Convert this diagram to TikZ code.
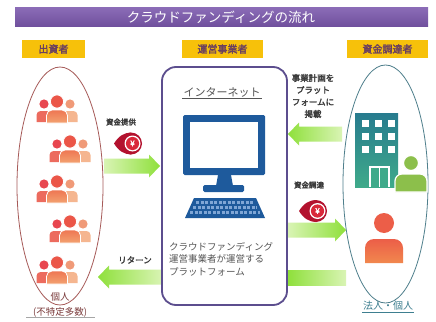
\documentclass[tikz,border=0pt]{standalone}
\usepackage{fontspec}
\setmainfont{Noto Sans CJK JP}[AutoFakeBold=2.5]
\usetikzlibrary{shapes.geometric}

\definecolor{bartop}{HTML}{8A6BB6}
\definecolor{barbot}{HTML}{6F4F9C}
\definecolor{hdrgold}{HTML}{F7C10A}
\definecolor{hdrtext}{HTML}{6A4060}
\definecolor{labelgray}{HTML}{3C3C3C}
\definecolor{softgray}{HTML}{555555}
\definecolor{boxpurple}{HTML}{5C4E8E}
\definecolor{monblue}{HTML}{1E5A9C}
\definecolor{keyblue}{HTML}{7FA6D6}
\definecolor{ellred}{HTML}{A65A58}
\definecolor{ellteal}{HTML}{4F7F8C}
\definecolor{brownred}{HTML}{7A3A3A}
\definecolor{tealtext}{HTML}{3E7F90}
\definecolor{arrowlight}{HTML}{D9F4B4}
\definecolor{arrowlime}{HTML}{8FE03C}
\definecolor{yendark}{HTML}{B3122E}
\definecolor{yenred}{HTML}{D9283A}
\definecolor{bldtop}{HTML}{277B8E}
\definecolor{bldbot}{HTML}{3FAA8A}
\definecolor{greenfig}{HTML}{8CBF4B}
\definecolor{pheadL}{HTML}{E8464F}
\definecolor{pbodyL}{HTML}{EC6B5E}
\definecolor{pheadC}{HTML}{EB5648}
\definecolor{pbodyCt}{HTML}{EE7653}
\definecolor{pbodyCb}{HTML}{F3A270}
\definecolor{pheadR}{HTML}{F09A78}
\definecolor{pbodyR}{HTML}{F5B690}
\definecolor{figtop}{HTML}{EC5E48}
\definecolor{figbot}{HTML}{F1884E}

% one figure: x, head y, head radius, body half width, body top, body bottom,
% head style, body style, shoulder rounding
\newcommand\figperson[9]{%
  \path[#7] (#1,#2) circle (#3);
  \path[#8] (#1-#4,#6) [rounded corners=#9] -- (#1-#4,#5) -- (#1+#4,#5)
        [sharp corners] -- (#1+#4,#6) -- cycle;
}
% a group of three figures, central head top at (#1,#2)
\newcommand\crowd[2]{%
  \figperson{#1-13}{#2+9}{4.6}{7.5}{#2+16}{#2+27}{fill=pheadL}{fill=pbodyL}{4pt}
  \figperson{#1+13}{#2+9}{4.6}{7.5}{#2+16}{#2+27}{fill=pheadR}{fill=pbodyR}{4pt}
  \figperson{#1}{#2+6.5}{6.6}{10.5}{#2+15}{#2+28}{fill=pheadC,draw=white,line width=0.8}%
     {top color=pbodyCt,bottom color=pbodyCb,draw=white,line width=0.8}{5.5pt}
}
% block arrow: tail x, tip x, centre y, direction (+1 right, -1 left), shading
\newcommand\blockarrow[5]{%
  \shade[#5] (#1,#3-7.5) -- (#2-#4*11,#3-7.5) -- (#2-#4*11,#3-11.5) -- (#2,#3)
     -- (#2-#4*11,#3+11.5) -- (#2-#4*11,#3+7.5) -- (#1,#3+7.5) -- cycle;
}
% yen coin badge with a pointed tail to the left
\newcommand\yenbadge[3]{%
  \fill[yendark] (#2-17,#3) .. controls (#2-12,#3-8) and (#2-7,#3-10.5) .. (#2,#3-11)
     -- (#2,#3+11) .. controls (#2-7,#3+10.5) and (#2-12,#3+8) .. (#2-17,#3) -- cycle;
  \fill[yendark] (#2,#3) circle (11);
  \fill[white] (#2+1.5,#3) circle (8);
  \fill[yenred] (#2+1.5,#3) circle (6.6);
  \node[text=white, inner sep=0pt, font=\fontsize{8}{8}\selectfont\bfseries] (#1) at (#2+1.5,#3) {¥};
}

\begin{document}
\begin{tikzpicture}[x=1pt,y=-1pt,
  hdr/.style={fill=hdrgold, minimum height=18pt, inner sep=0pt, text=hdrtext,
              font=\fontsize{10}{12}\selectfont\bfseries},
  lbl/.style={inner sep=0pt, text=labelgray, font=\fontsize{7.5}{9}\selectfont\bfseries},
  toright/.style={left color=arrowlight, right color=arrowlime},
  toleft/.style={left color=arrowlime, right color=arrowlight}]
\useasboundingbox (0,0) rectangle (436,321);
\fill[white] (0,0) rectangle (436,321);

% title bar
\shade[top color=bartop, bottom color=barbot] (15,8) rectangle (428,27);
\node[text=white, font=\fontsize{13.5}{15}\selectfont] (title) at (221,17.5) {クラウドファンディングの流れ};

% column headers
\node[hdr, minimum width=63pt] (hdrinv) at (53.5,49) {出資者};
\node[hdr, minimum width=81pt] (hdrop) at (222.5,49) {運営事業者};
\node[hdr, minimum width=81pt] (hdrraise) at (387.5,49) {資金調達者};

% flow arrows
\blockarrow{104}{160}{166}{1}{toright}
\blockarrow{162}{98}{277}{-1}{toleft}
\blockarrow{342}{288}{134}{-1}{toleft}
\blockarrow{288}{346}{230}{1}{toright}
\shade[toleft] (288,270.5) rectangle (346,285.5);

% investors
\node[ellipse, draw=ellred, line width=0.8, minimum width=86pt, minimum height=238pt, inner sep=0pt] (investors) at (60,186) {};
\crowd{57}{95}
\crowd{70}{135}
\crowd{57}{175}
\crowd{70}{215}
\crowd{57}{256}
\node[text=brownred, align=center, inner sep=0pt, font=\fontsize{9.5}{15}\selectfont] (indiv) at (60,304.5) {個人\\(不特定多数)};
\draw[gray!70, line width=0.6] (26,317) -- (95,317);

% platform
\node[draw=boxpurple, line width=1.8, rounded corners=14pt, minimum width=125pt, minimum height=238pt, inner sep=0pt] (platform) at (224.5,186) {};
\node[text=softgray, inner sep=1pt, font=\fontsize{11}{13}\selectfont] (net) at (222,92) {インターネット};
\draw[softgray, line width=0.5] (net.south west) -- (net.south east);
% computer
\fill[monblue, rounded corners=1.5pt] (183,115) rectangle (265,175);
\fill[white] (190,122) rectangle (258,168);
\fill[monblue] (218,175) -- (231,175) -- (233,186) -- (216,186) -- cycle;
\fill[monblue, rounded corners=1.5pt] (203,185) rectangle (244,192);
\fill[monblue] (194,198) -- (256,198) -- (265,218) -- (185,218) -- cycle;
\foreach \yy/\xa/\xb in {202.5/196/254, 207.5/193/257, 212.5/190/260}
  \draw[keyblue, line width=2.2, dash pattern=on 3.2pt off 1.3pt] (\xa,\yy) -- (\xb,\yy);
\node[text=softgray, align=left, anchor=north west, inner sep=0pt, font=\fontsize{9.5}{12.5}\selectfont] (desc) at (169,242) {クラウドファンディング\\運営事業者が運営する\\プラットフォーム};

% fund raisers
\node[ellipse, draw=ellteal, line width=0.8, minimum width=85pt, minimum height=238pt, inner sep=0pt] (raisers) at (385.5,184) {};
\shade[top color=bldtop, bottom color=bldbot] (355,113) rectangle (398,187);
\foreach \wx in {362,375,388}
  \foreach \wy in {120,133,146}
    \fill[white] (\wx,\wy) rectangle ++(7,7);
\fill[white] (369,166) rectangle (390,187);
\fill[bldbot] (371,168) rectangle (378.8,187);
\fill[bldbot] (380.2,168) rectangle (388,187);
\figperson{411}{163}{7.5}{16}{174}{192}{fill=greenfig,draw=white,line width=1.2}{fill=greenfig,draw=white,line width=1.2}{7pt}
\figperson{384}{223}{10}{19}{239}{263}{fill=figtop}{top color=figtop,bottom color=figbot}{9pt}
\node[text=tealtext, inner sep=1pt, font=\fontsize{10}{12}\selectfont] (corp) at (388,305.5) {法人・個人};
\draw[tealtext, line width=0.6] (362,312) -- (414,312);

% labels and yen badges
\node[lbl] (give) at (121,122) {資金提供};
\yenbadge{yenone}{131}{143.5}
\node[lbl, font=\fontsize{8.5}{10}\selectfont\bfseries] (ret) at (135,260) {リターン};
\node[lbl, align=center, font=\fontsize{8.5}{12}\selectfont\bfseries] (post) at (313,96) {事業計画を\\プラット\\フォームに\\掲載};
\node[lbl] (raise) at (309,185) {資金調達};
\yenbadge{yentwo}{316}{211}
\end{tikzpicture}
\end{document}
